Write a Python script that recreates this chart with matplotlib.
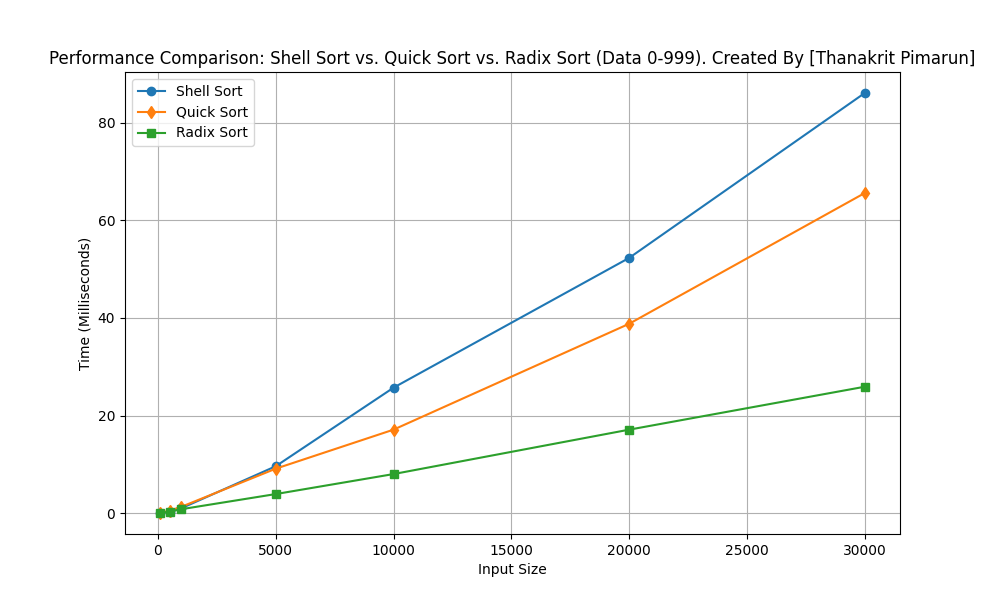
import matplotlib
matplotlib.use("Agg")
import matplotlib.pyplot as plt

sizes = [100, 500, 1000, 5000, 10000, 20000, 30000]
shell_ms = [0.03, 0.3, 1.0, 9.6, 25.7, 52.3, 86.1]
quick_ms = [0.05, 0.5, 1.3, 9.1, 17.1, 38.8, 65.6]
radix_ms = [0.02, 0.3, 0.8, 3.9, 8.0, 17.1, 25.9]

fig, ax = plt.subplots(figsize=(10, 6), dpi=100)
ax.plot(sizes, shell_ms, marker="o", label="Shell Sort")
ax.plot(sizes, quick_ms, marker="d", label="Quick Sort")
ax.plot(sizes, radix_ms, marker="s", label="Radix Sort")
ax.set_xlabel("Input Size")
ax.set_ylabel("Time (Milliseconds)")
ax.set_title("Performance Comparison: Shell Sort vs. Quick Sort vs. Radix Sort (Data 0-999). Created By [Thanakrit Pimarun]")
ax.legend()
ax.grid(True)
fig.savefig("out.png")
